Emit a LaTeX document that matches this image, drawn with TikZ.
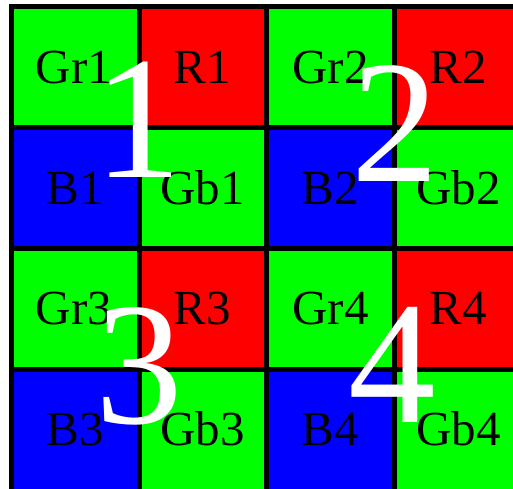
\documentclass[tikz,border=0pt]{standalone}
\usepackage{fontspec}
\setmainfont{Liberation Serif}
\definecolor{pg}{RGB}{0,255,0}
\definecolor{pr}{RGB}{255,0,0}
\definecolor{pb}{RGB}{0,0,255}
\begin{document}
\begin{tikzpicture}[x=1pt,y=-1pt,
  lbl/.style={font=\fontsize{49}{49}\selectfont, inner sep=0, anchor=base, text=black},
  big/.style={font=\fontsize{175}{175}\selectfont, inner sep=0, anchor=base, text=white},
  gridline/.style={line width=5pt, black}]
\useasboundingbox (0,0) rectangle (513,488);
\clip (0,0) rectangle (513,488);
\fill[white] (0,0) rectangle (513,488);
% cells: column x-lines 11.5,139,266.5,394.5,522.5 ; row y-lines 6.5,127,248,369,490
\foreach \r/\ya/\yb in {1/6.5/127, 2/127/248, 3/248/369, 4/369/490}{
  \foreach \c/\xa/\xb in {1/11.5/139, 2/139/266.5, 3/266.5/394.5, 4/394.5/522.5}{
    \pgfmathtruncatemacro{\odd}{mod(\r,2)}
    \pgfmathtruncatemacro{\oddc}{mod(\c,2)}
    \ifnum\odd=1
      \ifnum\oddc=1 \def\col{pg}\else\def\col{pr}\fi
    \else
      \ifnum\oddc=1 \def\col{pb}\else\def\col{pg}\fi
    \fi
    \fill[\col] (\xa,\ya) rectangle (\xb,\yb);
  }
}
% grid lines
\foreach \x in {11.5,139,266.5,394.5}{\draw[gridline] (\x,4) -- (\x,495);}
\foreach \y in {6.5,127,248,369}{\draw[gridline] (9,\y) -- (530,\y);}
% labels
\node[lbl] (gr1) at (74,83) {Gr1};
\node[lbl] (r1)  at (202.5,83) {R1};
\node[lbl] (gr2) at (330.5,83) {Gr2};
\node[lbl] (r2)  at (458.5,83) {R2};
\node[lbl] (b1)  at (75,204) {B1};
\node[lbl] (gb1) at (202.5,204) {Gb1};
\node[lbl] (b2)  at (330.5,204) {B2};
\node[lbl] (gb2) at (458.5,204) {Gb2};
\node[lbl] (gr3) at (74,324.5) {Gr3};
\node[lbl] (r3)  at (202.5,324.5) {R3};
\node[lbl] (gr4) at (330.5,324.5) {Gr4};
\node[lbl] (r4)  at (458.5,324.5) {R4};
\node[lbl] (b3)  at (75,445) {B3};
\node[lbl] (gb3) at (202.5,445) {Gb3};
\node[lbl] (b4)  at (330.5,445) {B4};
\node[lbl] (gb4) at (458.5,445) {Gb4};
% big numbers
\node[big] (n1) at (138.5,177) {1};
\node[big] (n2) at (395.5,181) {2};
\node[big] (n3) at (139,423) {3};
\node[big] (n4) at (392.5,422) {4};
\end{tikzpicture}
\end{document}
